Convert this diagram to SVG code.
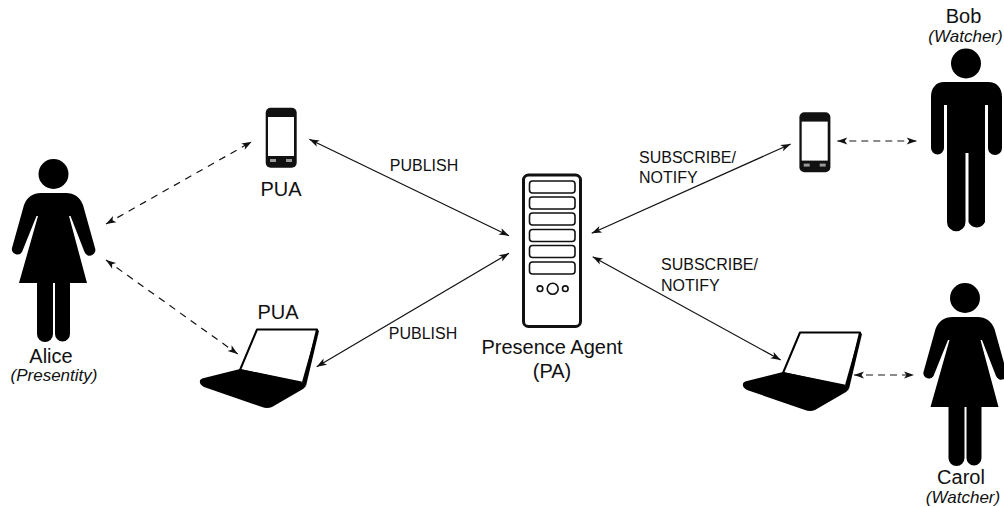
<svg xmlns="http://www.w3.org/2000/svg" xmlns:xlink="http://www.w3.org/1999/xlink" width="1004" height="507" viewBox="0 0 1004 507">
<style>
text{font-family:"Liberation Sans",Arial,sans-serif;fill:#111;text-anchor:middle}
.n{font-size:20px}.i{font-size:17px;font-style:italic}.l{font-size:16px;text-anchor:start}.c{text-anchor:middle}
.s{fill:none;stroke:#111;stroke-width:1.2;marker-start:url(#a);marker-end:url(#a)}
.d{stroke-dasharray:7 6}
.g{stroke:#666;stroke-width:1.6;stroke-dasharray:7 5}
</style>
<defs>
<marker id="a" markerUnits="userSpaceOnUse" markerWidth="14" markerHeight="10" viewBox="-12 -5 14 10" refX="0" refY="0" orient="auto-start-reverse"><path d="M0 0L-10 -3.500L-7.500 0L-10 3.500Z" fill="#111"/></marker>
<g id="woman"><circle cx="53.500" cy="174" r="15"/><path d="M41 193H66C74 193 80 197 83 205L95 248A5.500 5.500 0 0 1 84.500 252L70.500 216H69L87 283H19L38 216H36.500L22 252A5.500 5.500 0 0 1 12 248L24 205C27 197 33 193 41 193Z"/><path d="M37 280V334A8 8 0 0 0 53 334V280Z"/><path d="M55 280V334A7.500 7.500 0 0 0 70 334V280Z"/></g>
<g id="phone"><rect x="265.700" y="107.700" width="31" height="60" rx="5" fill="#111"/><rect x="268" y="117" width="26" height="39" fill="#fff"/><rect x="270" y="159" width="6" height="3" fill="#999"/><rect x="286" y="159" width="6" height="3" fill="#999"/></g>
<g id="laptop"><path d="M257 329.500H317L304 384L240 370Z" fill="#fff" stroke="#000" stroke-width="2" stroke-linejoin="round"/><path d="M317 329L319 331L306 386L302 382Z"/><path d="M240 369L301.500 381.500L306 386L303 389L272 407Q267 409 262 407L204 387Q199 384 200 381Q200 379 204 378Z"/></g>
</defs>
<rect width="1004" height="507" fill="#fff"/>
<g id="connectors">
<line class="s" x1="309.300" y1="139.300" x2="509" y2="235.700"/>
<line class="s" x1="316.700" y1="366.700" x2="509" y2="253.300"/>
<line class="s" x1="591.700" y1="233.300" x2="790.700" y2="144"/>
<line class="s" x1="592.700" y1="256.700" x2="780.700" y2="360"/>
<line class="s d" x1="106" y1="224" x2="251.700" y2="141.700"/>
<line class="s d" x1="106" y1="260" x2="237.700" y2="354"/>
<line class="s g" x1="837.300" y1="141" x2="916.700" y2="141"/>
<line class="s g" x1="854" y1="375" x2="914" y2="375"/>
</g>
<g id="alice"><use href="#woman"/><text class="n" x="51" y="363">Alice</text><text class="i" x="54" y="381">(Presentity)</text></g>
<g id="pua-phone"><use href="#phone"/><text class="n" x="281" y="196">PUA</text></g>
<g id="pua-laptop"><use href="#laptop"/><text class="n" x="278" y="319">PUA</text></g>
<g id="pa"><rect x="523.500" y="175" width="57" height="151.500" rx="5" fill="#fff" stroke="#111" stroke-width="3"/>
<g fill="#fff" stroke="#111" stroke-width="1.600"><rect x="529.500" y="181" width="45.500" height="12" rx="3"/><rect x="529.500" y="197" width="45.500" height="12" rx="3"/><rect x="529.500" y="213" width="45.500" height="12" rx="3"/><rect x="529.500" y="229.500" width="45.500" height="12" rx="3"/><rect x="529.500" y="245.500" width="45.500" height="12" rx="3"/><rect x="529.500" y="262" width="45.500" height="12" rx="3"/><circle cx="540" cy="288.700" r="2.800"/><circle cx="552.700" cy="288.700" r="5.500"/><circle cx="565.300" cy="288.700" r="2.800"/></g>
<text class="n" x="552" y="354">Presence Agent</text><text class="n" x="552" y="378">(PA)</text></g>
<g id="bob-phone"><use href="#phone" transform="translate(533.700 4.600)"/></g>
<g id="carol-laptop"><use href="#laptop" transform="translate(543 3)"/></g>
<g id="bob"><circle cx="966" cy="63.500" r="15"/><path d="M944 82H988C997 82 1002 88 1002 97V148A7 7 0 0 1 988 148V105H985V222A9 9 0 0 1 968.500 222V153H965.500V222A9 9 0 0 1 947 222V105H944V148A6.500 6.500 0 0 1 931 148V97C931 88 936 82 944 82Z"/><text class="n" x="963.500" y="23">Bob</text><text class="i" x="965.500" y="42">(Watcher)</text></g>
<g id="carol"><use href="#woman" transform="translate(911.500 124)"/><text class="n" x="961" y="484">Carol</text><text class="i" x="963" y="503">(Watcher)</text></g>
<g id="labels"><text class="l c" x="424" y="171">PUBLISH</text><text class="l c" x="423" y="339">PUBLISH</text><text class="l" x="639" y="163">SUBSCRIBE/</text><text class="l" x="639" y="183">NOTIFY</text><text class="l" x="661" y="270">SUBSCRIBE/</text><text class="l" x="661" y="291">NOTIFY</text></g>
</svg>
